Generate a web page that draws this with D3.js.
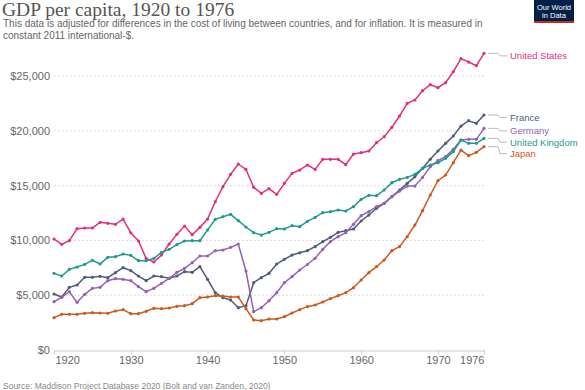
<!DOCTYPE html>
<html><head><meta charset="utf-8">
<script src="https://cdn.jsdelivr.net/npm/d3@7"></script>
<style>body{margin:0;background:#fff;}svg{display:block;font-family:"Liberation Sans",Arial,sans-serif;}</style>
</head><body><svg id="c" width="585" height="390"></svg>
<script>
const years = d3.range(1920, 1977);
const unitedStates = [10130,9640,9975,11070,11130,11130,11650,11555,11465,11950,10700,9945,8360,8030,8670,9670,10550,11310,10520,11190,11950,13530,14900,16025,16970,16480,14840,14290,14720,14200,15205,16120,16420,16880,16480,17395,17395,17395,16910,17880,18000,18155,18915,19460,20315,21350,22500,22810,23660,24205,23935,24390,25390,26580,26275,25940,27065];
const france = [5110,4835,5715,5930,6630,6630,6720,6600,7055,7510,7240,6750,6325,6750,6690,6540,6750,7145,7085,7600,6445,5230,4775,4560,3860,4045,6140,6600,6995,7845,8270,8665,8870,9060,9425,9885,10280,10735,10885,11040,11770,12315,12925,13380,13990,14600,15205,15815,16575,17395,18155,18855,19525,20435,20920,20680,21440];
const germany = [4410,4805,5320,4350,5080,5625,5715,6325,6510,6445,6325,5780,5320,5625,6080,6540,7085,7450,7965,8575,8575,9060,9125,9365,9670,7205,3495,3860,4500,5230,6140,6690,7300,7800,8365,9185,9885,10340,10705,11465,12255,12620,13075,13380,13990,14505,14960,14960,15750,16725,17275,17640,18305,19160,19220,19220,20220];
const unitedKingdom = [6995,6750,7360,7570,7815,8180,7845,8455,8515,8760,8635,8150,8150,8360,8910,9185,9610,9945,9975,9975,10950,11920,12165,12375,11800,11220,10705,10490,10735,11070,11040,11345,11250,11740,12100,12530,12620,12770,12680,13075,13745,14110,14080,14600,15265,15570,15750,16025,16575,16880,17090,17485,18095,19160,18855,18855,19310];
const japan = [2950,3255,3255,3255,3345,3405,3375,3345,3560,3680,3315,3315,3530,3800,3770,3830,3985,4045,4225,4775,4835,4955,4925,4835,4835,3770,2735,2675,2830,2830,3040,3375,3680,3955,4105,4380,4685,4955,5230,5685,6385,7055,7600,8210,9060,9425,10340,11405,12710,14140,15450,15965,17090,18245,17730,18035,18550];
const seriesNames = ["United States","France","Germany","United Kingdom","Japan"];
const seriesValues = [unitedStates, france, germany, unitedKingdom, japan];
const seriesColors = ["#e0307f","#4f5d78","#9461b5","#1f9a8f","#cc5a20"];
const yTicks = [0,5000,10000,15000,20000,25000];
const xTicks = [1920,1930,1940,1950,1960,1970,1976];

const svg = d3.select("#c");
const x = d3.scaleLinear().domain([1920,1976]).range([54,484]);
const y = d3.scaleLinear().domain([0,25000]).range([350,76]);

// title
svg.append("text").attr("x",2).attr("y",15.5).attr("font-family","'Liberation Serif',serif")
  .attr("font-size",19.5).attr("fill","#555").text("GDP per capita, 1920 to 1976");
svg.append("text").attr("x",3).attr("y",26.5).attr("font-size",10).attr("fill","#666")
  .text("This data is adjusted for differences in the cost of living between countries, and for inflation. It is measured in");
svg.append("text").attr("x",3).attr("y",38.5).attr("font-size",10).attr("fill","#666")
  .text("constant 2011 international-$.");

// logo
const logo = svg.append("g").attr("transform","translate(534,0)");
logo.append("rect").attr("width",40).attr("height",23).attr("fill","#002147");
logo.append("rect").attr("y",21).attr("width",40).attr("height",2).attr("fill","#ce261e");
logo.append("text").attr("x",20).attr("y",9.5).attr("text-anchor","middle").attr("font-size",7.5).attr("fill","#fff").text("Our World");
logo.append("text").attr("x",20).attr("y",17.5).attr("text-anchor","middle").attr("font-size",7.5).attr("fill","#fff").text("in Data");

// grid
svg.append("g").selectAll("line").data(yTicks.filter(d=>d>0)).join("line")
  .attr("x1",54).attr("x2",484).attr("y1",d=>y(d)).attr("y2",d=>y(d))
  .attr("stroke","#ddd").attr("stroke-dasharray","2,2").attr("stroke-width",1);
svg.append("g").selectAll("text").data(yTicks).join("text")
  .attr("x",50).attr("y",d=>y(d)+4).attr("text-anchor","end").attr("font-size",11).attr("fill","#666")
  .text(d=>"$"+d3.format(",")(d));

// x axis
const xAxis = d3.axisBottom(x).tickValues(xTicks).tickFormat(d3.format("d")).tickSize(4).tickSizeOuter(0);
const gx = svg.append("g").attr("transform","translate(0,350.5)").call(xAxis);
gx.select(".domain").attr("stroke","#ccc");
gx.selectAll(".tick line").attr("stroke","#ccc");
gx.selectAll(".tick text").attr("font-size",11).attr("fill","#666").attr("font-family","'Liberation Sans',Arial,sans-serif").attr("dy","0.55em")
  .attr("text-anchor",d=>d===1920?"start":(d===1976?"end":"middle"))
  .attr("dx",d=>d===1920?"1":"0");

// lines
const line = d3.line().x((d,i)=>x(years[i])).y(d=>y(d));
seriesValues.forEach((vals,k)=>{
  const g = svg.append("g");
  g.append("path").datum(vals).attr("d",line).attr("fill","none").attr("stroke",seriesColors[k]).attr("stroke-width",1.5);
  g.selectAll("circle").data(vals).join("circle").attr("cx",(d,i)=>x(years[i])).attr("cy",d=>y(d)).attr("r",1.6).attr("fill",seriesColors[k]);
});

// labels with simple collision handling
const ends = seriesValues.map((v,k)=>({k, y0:y(v[v.length-1])}));
ends.sort((a,b)=>a.y0-b.y0);
let last=-1e9;
ends.forEach(e=>{ e.ly=Math.max(e.y0+2.5,last+11.3); last=e.ly; });
ends.forEach(e=>{
  const x0 = x(1976)+4;
  svg.append("path").attr("d",`M${x0},${e.y0}H${x0+10}L${x0+12},${e.ly}H${x0+19}`)
    .attr("fill","none").attr("stroke","#bbb").attr("stroke-width",1);
  svg.append("text").attr("x",x0+22).attr("y",e.ly+3.5).attr("font-size",9.5).attr("fill",seriesColors[e.k]).text(seriesNames[e.k]);
});

svg.append("text").attr("x",3).attr("y",389).attr("font-size",8.5).attr("fill","#888")
  .text("Source: Maddison Project Database 2020 (Bolt and van Zanden, 2020)");
</script></body></html>
